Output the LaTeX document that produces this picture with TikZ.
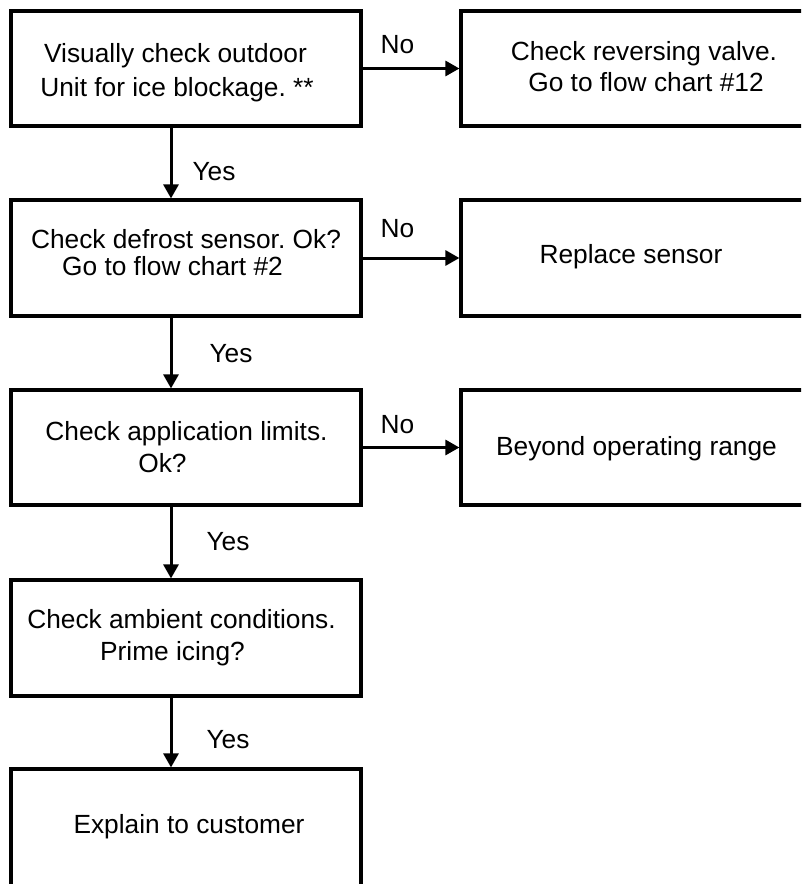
\documentclass[tikz,border=0pt]{standalone}
\usepackage{fontspec}
\setmainfont{Liberation Sans}
\usetikzlibrary{arrows.meta}
\begin{document}
\frenchspacing
\begin{tikzpicture}[x=1pt,y=-1pt,
  boxnode/.style={draw=black,line width=3.2pt,rectangle,inner sep=0pt,minimum width=350pt},
  sidebox/.style={draw=black,line width=3.2pt,rectangle,inner sep=0pt,minimum width=439pt},
  txt/.style={inner sep=0pt,anchor=base,font=\fontsize{26.3}{32}\selectfont},
  arr/.style={line width=3pt,-{Triangle[length=14pt,width=15pt]}}]
\clip (0,0) rectangle (801,884);
\fill[white] (0,0) rectangle (801,884);
% boxes
\node[boxnode,minimum height=115pt] (b1) at (186,68.5) {};
\node[sidebox,minimum height=115pt] (b2) at (680.5,68.5) {};
\node[boxnode,minimum height=116pt] (b3) at (186,258) {};
\node[sidebox,minimum height=116pt] (b4) at (680.5,258) {};
\node[boxnode,minimum height=115pt] (b5) at (186,447.5) {};
\node[sidebox,minimum height=115pt] (b6) at (680.5,447.5) {};
\node[boxnode,minimum height=116pt] (b7) at (186,638) {};
\node[boxnode,minimum height=131pt] (b8) at (186,834.5) {};
% texts
\node[txt] (t1a) at (175.5,62) {Visually check outdoor};
\node[txt] (t1b) at (177,96) {Unit for ice blockage. **};
\node[txt] (t2a) at (644,60) {Check reversing valve.};
\node[txt] (t2b) at (646,91) {Go to flow chart \#12};
\node[txt] (t3a) at (186,248) {Check defrost sensor. Ok?};
\node[txt] (t3b) at (172.5,275) {Go to flow chart \#2};
\node[txt] (t4) at (631,263) {Replace sensor};
\node[txt] (t5a) at (186.5,440) {Check application limits.};
\node[txt] (t5b) at (162.5,472) {Ok?};
\node[txt] (t6) at (636.5,455) {Beyond operating range};
\node[txt] (t7a) at (181.5,628) {Check ambient conditions.};
\node[txt] (t7b) at (172.5,660) {Prime icing?};
\node[txt] (t8) at (189,833) {Explain to customer};
% connectors
\coordinate (vx) at (171,0);
\draw[arr] (b1.south -| vx) -- (b3.north -| vx);
\draw[arr] (b3.south -| vx) -- (b5.north -| vx);
\draw[arr] (b5.south -| vx) -- (b7.north -| vx);
\draw[arr] (b7.south -| vx) -- (b8.north -| vx);
\draw[arr] (b1.east) -- (b2.west);
\draw[arr] (b3.east) -- (b4.west);
\draw[arr] (b5.east) -- (b6.west);
% labels
\node[txt] (n1) at (397.5,53) {No};
\node[txt] (n2) at (397.5,237) {No};
\node[txt] (n3) at (397.5,433) {No};
\node[txt] (y1) at (214,180) {Yes};
\node[txt] (y2) at (231,362) {Yes};
\node[txt] (y3) at (228,550) {Yes};
\node[txt] (y4) at (228,748) {Yes};
\end{tikzpicture}
\end{document}
